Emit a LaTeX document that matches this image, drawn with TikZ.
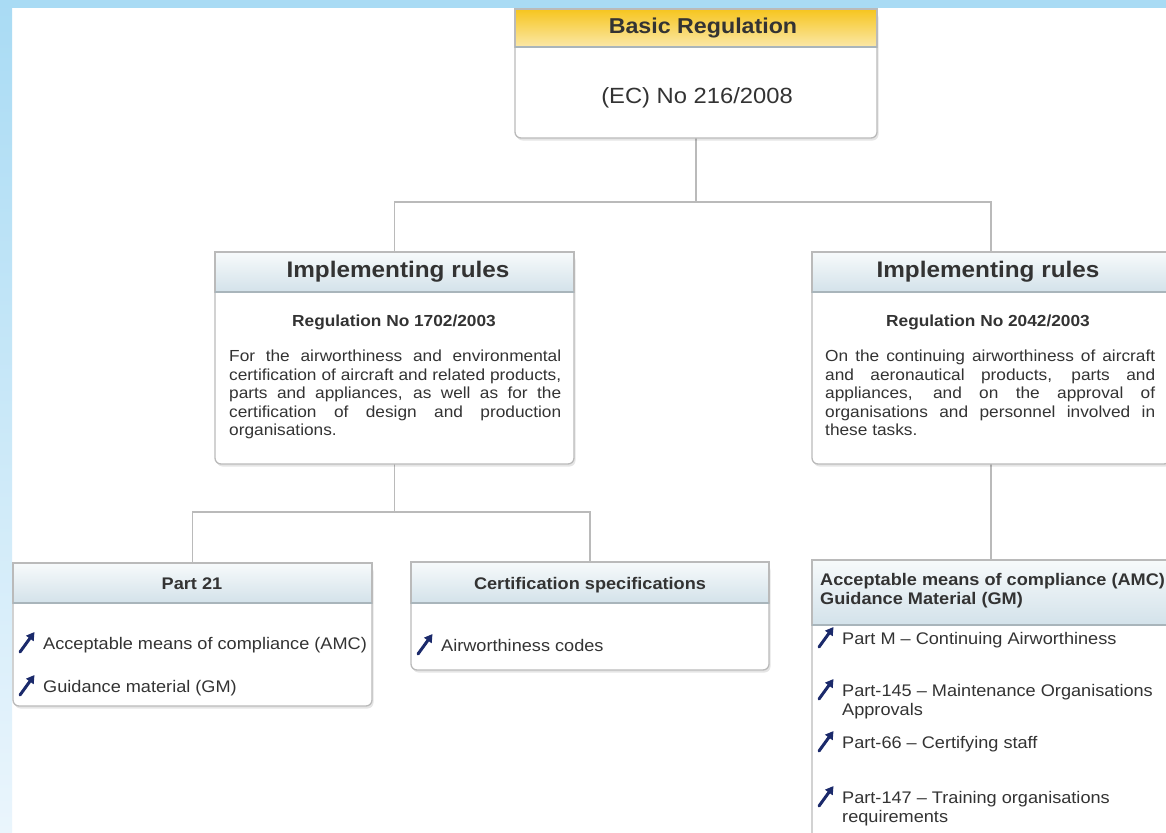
\documentclass[tikz,border=0pt]{standalone}
\usepackage{fontspec}
\setmainfont[FakeStretch=1.08]{Liberation Sans}
\usetikzlibrary{arrows.meta,calc}
\definecolor{txt}{HTML}{333333}
\definecolor{bordc}{HTML}{BABABA}
\definecolor{hdline}{HTML}{A9B5BB}
\definecolor{hdtop}{HTML}{F7FAFB}
\definecolor{hdbot}{HTML}{D3E2EA}
\definecolor{ytop}{HTML}{F6C51E}
\definecolor{ybot}{HTML}{FBE8A8}
\definecolor{navy}{HTML}{1B2A6B}
\definecolor{skyA}{HTML}{A9DBF4}
\definecolor{skyB}{HTML}{EAF5FC}
\newcommand\drawbox[4]{%
  \fill[black,opacity=0.10,rounded corners=6pt] ([shift={(1.5pt,-2.5pt)}]#1.north west) rectangle ([shift={(1.5pt,-2.5pt)}]#1.south east);
  \fill[white,rounded corners=6pt] (#1.north west) rectangle (#1.south east);
  \draw[bordc,line width=1.3pt,rounded corners=6pt] (#1.north west) rectangle (#1.south east);
  \shade[top color=#3,bottom color=#4] (#1.north west) rectangle ([yshift=-#2pt]#1.north east);
  \draw[bordc,line width=1.3pt] (#1.north west) rectangle ([yshift=-#2pt]#1.north east);
  \draw[hdline,line width=1.3pt] ([yshift=-#2pt]#1.north west) -- ([yshift=-#2pt]#1.north east);
}
\newcommand\itemicon[1]{%
  \draw[icon] ([xshift=-23pt,yshift=-3pt]#1.base west) -- ([xshift=-8.5pt,yshift=17pt]#1.base west);
}
\begin{document}
\begin{tikzpicture}[x=1pt,y=-1pt,
  boxn/.style={inner sep=0pt, outer sep=0pt, anchor=north west},
  conn/.style={draw=bordc, line width=1.5pt},
  bigtitle/.style={font=\bfseries\fontsize{22.5}{26}\selectfont, text=txt, inner sep=0pt},
  regtitle/.style={font=\bfseries\fontsize{16}{19}\selectfont, text=txt, inner sep=0pt},
  smalltitle/.style={font=\bfseries\fontsize{16.8}{19}\selectfont, text=txt, inner sep=0pt},
  para/.style={font=\fontsize{16}{18.5}\selectfont, text=txt, inner sep=0pt, align=justify, anchor=north west},
  itemtext/.style={font=\fontsize{16.8}{19}\selectfont, text=txt, inner sep=0pt, anchor=base west},
  icon/.style={draw=navy, line width=3pt, line cap=round, -{Triangle[length=8pt,width=9pt]}},
]
\useasboundingbox (0,0) rectangle (1166,832);
\clip (0,0) rectangle (1166,832);
\fill[white] (0,0) rectangle (1166,832);
\shade[top color=skyA, bottom color=skyB] (0,0) rectangle (12,832);
\fill[skyA] (0,0) rectangle (1166,8);

% box frames
\node[boxn, minimum width=362pt, minimum height=129pt] (br) at (515,9) {};
\node[boxn, minimum width=359pt, minimum height=212pt] (ir1) at (215,252) {};
\node[boxn, minimum width=358pt, minimum height=212pt] (ir2) at (812,252) {};
\node[boxn, minimum width=359pt, minimum height=143pt] (p21) at (13,563) {};
\node[boxn, minimum width=358pt, minimum height=108pt] (cs) at (411,562) {};
\node[boxn, minimum width=358pt, minimum height=300pt] (amc) at (812,560) {};

% connectors
\draw[conn] (br.south) -- ++(0,64) -| (ir1.north);
\draw[conn] (br.south) -- ++(0,64) -| (ir2.north);
\draw[conn] (ir1.south) -- ++(0,48) -| (p21.north);
\draw[conn] (ir1.south) -- ++(0,48) -| (cs.north);
\draw[conn] (ir2.south) -- (amc.north);

\drawbox{br}{38}{ytop}{ybot}
\drawbox{ir1}{40}{hdtop}{hdbot}
\drawbox{ir2}{40}{hdtop}{hdbot}
\drawbox{p21}{40}{hdtop}{hdbot}
\drawbox{cs}{41}{hdtop}{hdbot}
\drawbox{amc}{65}{hdtop}{hdbot}

% basic regulation
\node[font=\bfseries\fontsize{21.5}{25}\selectfont, text=txt, inner sep=0pt] (brt) at (703,28) {Basic Regulation};
\node[font=\fontsize{22}{26}\selectfont, text=txt, inner sep=0pt] (brs) at (697,98) {(EC) No 216/2008};

% implementing rules left
\node[bigtitle] (ir1t) at (398,272) {Implementing rules};
\node[regtitle] (ir1r) at (394,322) {Regulation No 1702/2003};
\node[para, text width=332pt] (ir1p) at (229,350) {For the airworthiness and environmental\linebreak certification of aircraft and related products,\linebreak parts and appliances, as well as for the\linebreak certification of design and production\linebreak organisations.};

% implementing rules right
\node[bigtitle] (ir2t) at (988,272) {Implementing rules};
\node[regtitle] (ir2r) at (988,322) {Regulation No 2042/2003};
\node[para, text width=330pt] (ir2p) at (825,350) {On the continuing airworthiness of aircraft\linebreak and aeronautical products, parts and\linebreak appliances, and on the approval of\linebreak organisations and personnel involved in\linebreak these tasks.};

% part 21
\node[smalltitle] (p21t) at (192,584) {Part 21};
\node[itemtext] (p21a) at (43,649) {Acceptable means of compliance (AMC)};
\node[itemtext] (p21b) at (43,692) {Guidance material (GM)};
\itemicon{p21a}
\itemicon{p21b}

% certification specifications
\node[smalltitle] (cst) at (590,585) {Certification specifications};
\node[itemtext] (csa) at (441,651) {Airworthiness codes};
\itemicon{csa}

% AMC / GM
\node[smalltitle, align=left, anchor=west] (amct) at (820,590.5) {Acceptable means of compliance (AMC)\\Guidance Material (GM)};
\node[itemtext] (amca) at (842,644) {Part M -- Continuing Airworthiness};
\node[itemtext] (amcb) at (842,696) {Part-145 -- Maintenance Organisations};
\node[itemtext] (amcb2) at (842,715) {Approvals};
\node[itemtext] (amcc) at (842,748) {Part-66 -- Certifying staff};
\node[itemtext] (amcd) at (842,803) {Part-147 -- Training organisations};
\node[itemtext] (amcd2) at (842,822) {requirements};
\itemicon{amca}
\itemicon{amcb}
\itemicon{amcc}
\itemicon{amcd}
\end{tikzpicture}
\end{document}
